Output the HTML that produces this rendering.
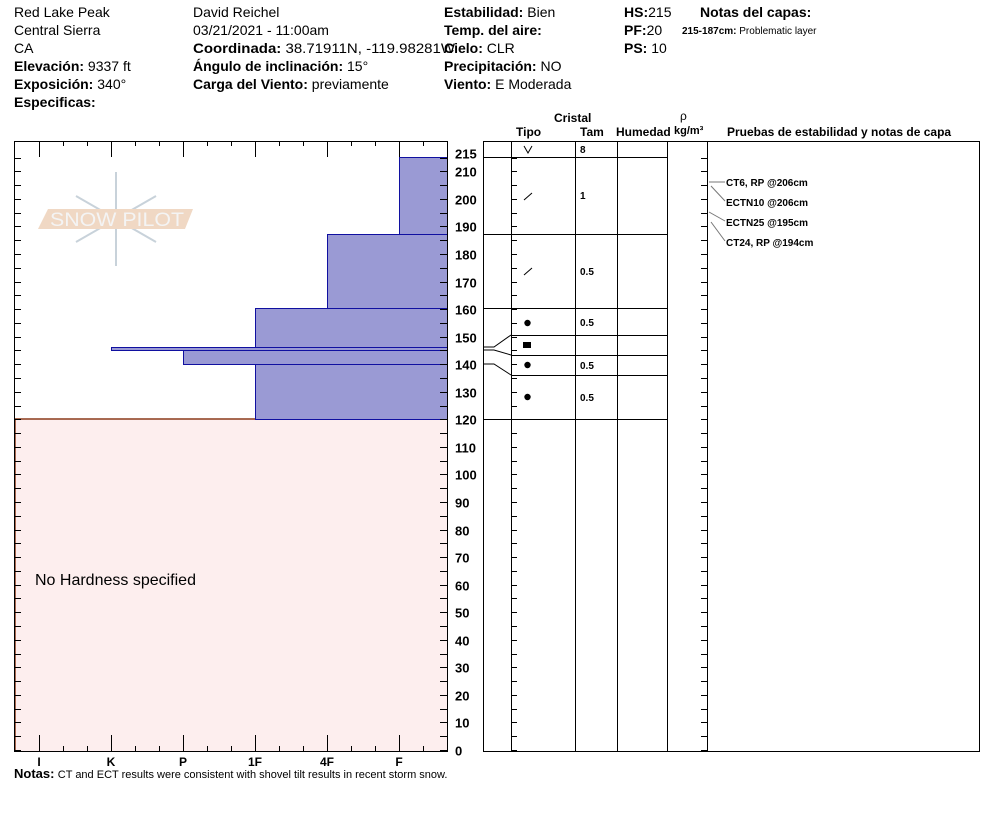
<!DOCTYPE html>
<html><head><meta charset="utf-8"><style>
body{margin:0;background:#fff;width:994px;height:840px;overflow:hidden}
svg{display:block;font-family:"Liberation Sans",sans-serif}
.h{font-size:14px}
.b{font-weight:bold}
</style></head><body>
<svg id="s" width="994" height="840" xmlns="http://www.w3.org/2000/svg">
<g class="h" fill="#000">
<text x="14" y="17">Red Lake Peak</text>
<text x="14" y="35">Central Sierra</text>
<text x="14" y="53">CA</text>
<text x="14" y="71"><tspan class="b">Elevación:</tspan> 9337 ft</text>
<text x="14" y="89"><tspan class="b">Exposición:</tspan> 340°</text>
<text x="14" y="107" class="b">Especificas:</text>
<text x="193" y="17">David Reichel</text>
<text x="193" y="35">03/21/2021 - 11:00am</text>
<text x="193" y="53" textLength="262" lengthAdjust="spacingAndGlyphs"><tspan class="b">Coordinada:</tspan> 38.71911N, -119.98281W</text>
<text x="193" y="71"><tspan class="b">Ángulo de inclinación:</tspan> 15°</text>
<text x="193" y="89"><tspan class="b">Carga del Viento:</tspan> previamente</text>
<text x="444" y="17"><tspan class="b">Estabilidad:</tspan> Bien</text>
<text x="444" y="35" class="b">Temp. del aire:</text>
<text x="444" y="53"><tspan class="b">Cielo:</tspan> CLR</text>
<text x="444" y="71"><tspan class="b">Precipitación:</tspan> NO</text>
<text x="444" y="89"><tspan class="b">Viento:</tspan>  E Moderada</text>
<text x="624" y="17"><tspan class="b">HS:</tspan>215</text>
<text x="624" y="35"><tspan class="b">PF:</tspan>20</text>
<text x="624" y="53"><tspan class="b">PS:</tspan> 10</text>
<text x="700" y="17" class="b">Notas del capas:</text>
<text x="682" y="34" font-size="10"><tspan class="b">215-187cm:</tspan> Problematic layer</text>
</g>
<g font-size="12" font-weight="bold">
<text x="554" y="122">Cristal</text>
<text x="516" y="136">Tipo</text>
<text x="580" y="136">Tam</text>
<text x="616" y="136">Humedad</text>
<text x="680" y="120" font-weight="normal">ρ</text>
<text x="674" y="134" font-size="11">kg/m³</text>
<text x="727" y="136">Pruebas de estabilidad y notas de capa</text>
</g>
<!-- left chart -->
<rect x="14.5" y="419" width="433" height="332" fill="#fdeeee"/>
<line x1="14.5" y1="419" x2="447" y2="419" stroke="#8b3a1a" stroke-width="1.5"/>
<line x1="15" y1="419" x2="15" y2="751" stroke="#8b3a1a" stroke-width="1.5"/>
<g fill="#9a9ad4" stroke="#1010a0" stroke-width="1">
<rect x="399.5" y="157.5" width="48" height="77"/>
<rect x="327.5" y="234.5" width="120" height="74"/>
<rect x="255.5" y="308.5" width="192" height="111"/>
<rect x="183.5" y="350.5" width="264" height="14"/>
<rect x="111.5" y="347.5" width="336" height="3"/>
</g>
<text x="35" y="585" font-size="16">No Hardness specified</text>
<!-- watermark -->
<g>
<g stroke="#c8d2da" stroke-width="2" fill="none">
<line x1="116" y1="172" x2="116" y2="266"/>
<line x1="76" y1="196" x2="156" y2="242"/>
<line x1="76" y1="242" x2="156" y2="196"/>
</g>
<polygon points="48,209 193,209 185,229 38,229" fill="#f0d8c4"/>
<text x="50" y="226" font-size="19" fill="#f4f4f4" textLength="134" lengthAdjust="spacingAndGlyphs">SNOW PILOT</text>
</g>
<rect x="14.5" y="141.5" width="433" height="610" fill="none" stroke="#000"/>
<rect x="483.5" y="141.5" width="496" height="610" fill="none" stroke="#000"/>
<g id="ticks" stroke="#000"></g>
<g id="lab" font-size="13" font-weight="bold"></g>
<g font-size="12" font-weight="bold" text-anchor="middle">
<text x="39" y="766">I</text><text x="111" y="766">K</text><text x="183" y="766">P</text><text x="255" y="766">1F</text><text x="327" y="766">4F</text><text x="399" y="766">F</text>
</g>
<text x="14" y="778" font-size="12"><tspan font-weight="bold" font-size="13">Notas:</tspan> <tspan font-size="11">CT and ECT results were consistent with shovel tilt results in recent storm snow.</tspan></text>
<!-- right table -->
<g stroke="#000" fill="none">
<line x1="511.5" y1="141" x2="511.5" y2="751"/>
<line x1="575.5" y1="141" x2="575.5" y2="751"/>
<line x1="617.5" y1="141" x2="617.5" y2="751"/>
<line x1="667.5" y1="141" x2="667.5" y2="751"/>
<line x1="707.5" y1="141" x2="707.5" y2="751"/>
<line x1="483" y1="157.5" x2="667" y2="157.5"/>
<line x1="483" y1="234.5" x2="667" y2="234.5"/>
<line x1="483" y1="308.5" x2="667" y2="308.5"/>
<line x1="511" y1="335.5" x2="667" y2="335.5"/>
<line x1="511" y1="355.5" x2="667" y2="355.5"/>
<line x1="511" y1="375.5" x2="667" y2="375.5"/>
<line x1="483" y1="419.5" x2="667" y2="419.5"/>
<polyline points="483,347 494,347 511,335"/>
<polyline points="483,350 494,350 511,355"/>
<polyline points="483,364 494,364 511,375"/>
<polyline points="524,146 528,153 532,146"/>
<line x1="524" y1="200" x2="532" y2="193"/>
<line x1="524" y1="275" x2="532" y2="268"/>
</g>
<g fill="#000">
<circle cx="527.5" cy="323" r="3.2"/><rect x="523" y="342" width="8" height="6"/><circle cx="527.5" cy="365" r="3.2"/><circle cx="527.5" cy="397" r="3.2"/>
</g>
<g font-size="10" font-weight="bold">
<text x="580" y="153">8</text><text x="580" y="199">1</text><text x="580" y="275">0.5</text><text x="580" y="326">0.5</text><text x="580" y="369">0.5</text><text x="580" y="401">0.5</text>
</g>
<g stroke="#777" fill="none">
<line x1="709" y1="182" x2="725" y2="182"/>
<line x1="711" y1="186" x2="725" y2="201"/>
<line x1="709" y1="212" x2="725" y2="221"/>
<line x1="711" y1="222" x2="725" y2="241"/>
</g>
<g font-size="10" font-weight="bold">
<text x="726" y="186">CT6, RP @206cm</text>
<text x="726" y="206">ECTN10 @206cm</text>
<text x="726" y="226">ECTN25 @195cm</text>
<text x="726" y="246">CT24, RP @194cm</text>
</g>
</svg>
<script>
var t=document.getElementById('ticks'),l=document.getElementById('lab'),s='',L='';
function y(h){return 750-h*2.7556;}
for(var h=0;h<=215;h+=5){var Y=Math.round(y(h))+.5;
 s+='<line x1="14" y1="'+Y+'" x2="21" y2="'+Y+'"/><line x1="440" y1="'+Y+'" x2="447" y2="'+Y+'"/>';
 s+='<line x1="511" y1="'+Y+'" x2="517" y2="'+Y+'"/><line x1="701" y1="'+Y+'" x2="707" y2="'+Y+'"/>';
 if(h%10==0){L+='<text x="455" y="'+(Y+5)+'">'+h+'</text>';}}
L+='<text x="455" y="'+(y(215)+1)+'">215</text>';
for(var x=39;x<=447;x+=24){var maj=((x-39)%72==0);var X=x+.5;
 s+='<line x1="'+X+'" y1="'+(maj?735:746)+'" x2="'+X+'" y2="751"/>';
 s+='<line x1="'+X+'" y1="141" x2="'+X+'" y2="'+(maj?157:146)+'"/>';}
t.innerHTML=s;l.innerHTML=L;
</script>
</body></html>
